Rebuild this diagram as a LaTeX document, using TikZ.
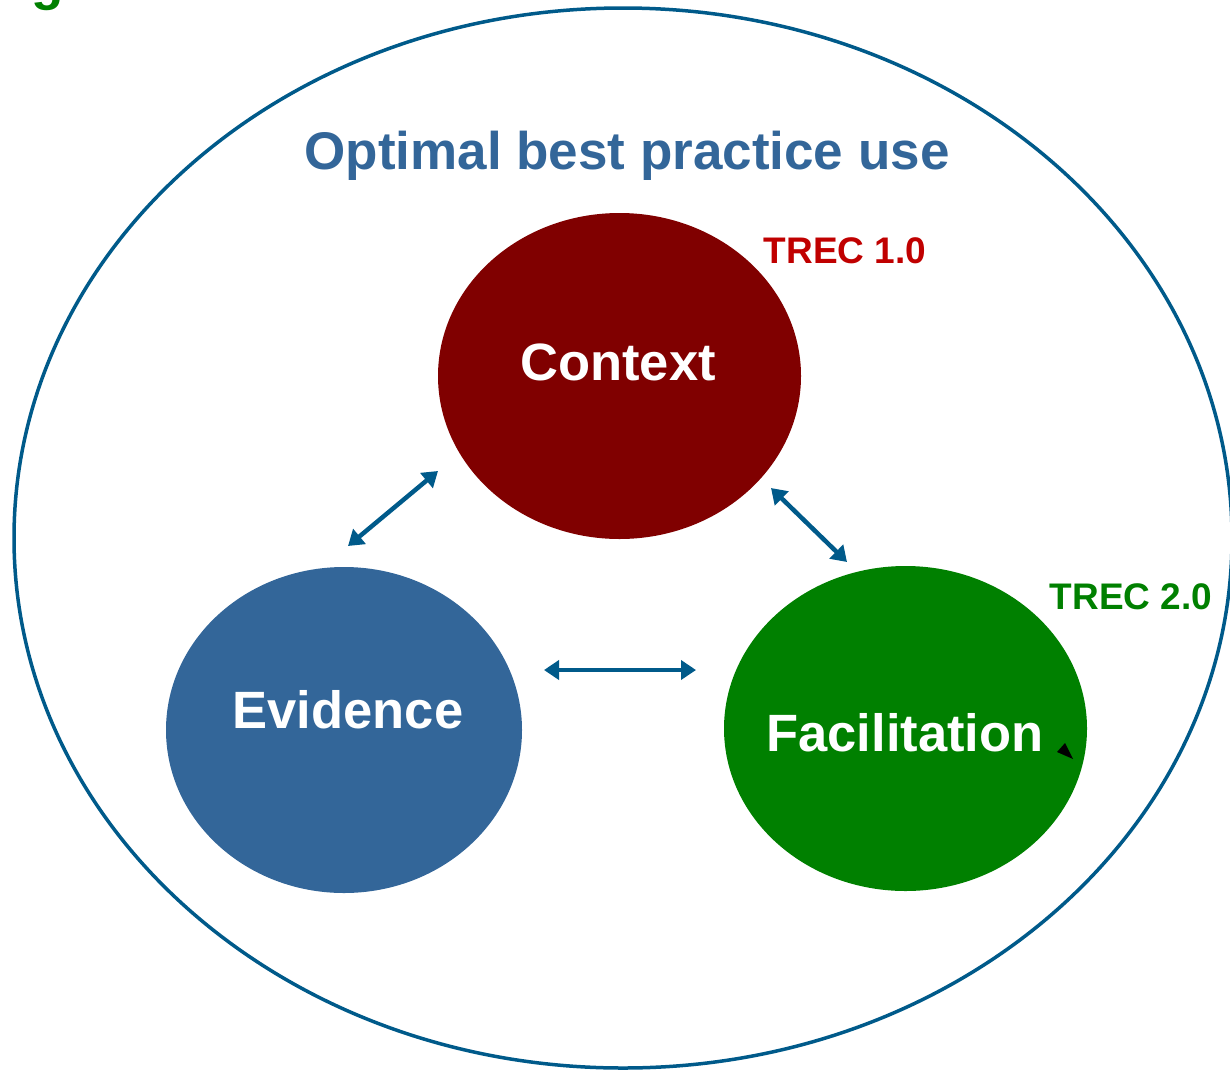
\documentclass[tikz,border=0pt]{standalone}
\usepackage{fontspec}
\setmainfont{Liberation Sans}
\usetikzlibrary{arrows.meta,shapes.geometric}
\definecolor{outl}{HTML}{005A8A}
\definecolor{ctx}{HTML}{800000}
\definecolor{evi}{HTML}{336699}
\definecolor{fac}{HTML}{008000}
\definecolor{trecred}{HTML}{C00000}
\tikzset{
  bubble/.style={ellipse, draw=none, inner sep=0pt},
  lbl/.style={text=white, font=\fontsize{52.5}{60}\selectfont\bfseries, inner sep=0pt},
  biarrow/.style={draw=outl, line width=4.5pt, {Triangle[width=19pt,length=15pt]}-{Triangle[width=19pt,length=15pt]}},
}
\begin{document}
\begin{tikzpicture}[x=1pt,y=-1pt]
\useasboundingbox (0,0) rectangle (1230,1071);
% outer ellipse
\draw[outl, line width=3.5pt] (623,538) ellipse [x radius=609, y radius=530];
% clipped heading fragment
\node[anchor=base, text=fac, font=\fontsize{53}{60}\selectfont\bfseries, inner sep=0pt] (frag) at (48,-1) {g};
% title
\node[text=evi, font=\fontsize{53}{60}\selectfont\bfseries, inner sep=0pt] (title) at (627,156) {Optimal best practice use};
% bubbles
\fill[ctx] (619.5,376) ellipse [x radius=181.5, y radius=163];
\fill[evi] (344,730) ellipse [x radius=178, y radius=163];
\fill[fac] (905.5,728.5) ellipse [x radius=181.5, y radius=162.5];
\node[lbl] (context) at (618,362) {Context};
\node[lbl] (evidence) at (348,710) {Evidence};
\node[lbl] (facil) at (905,733) {Facilitation};
% TREC labels
\node[text=trecred, font=\fontsize{37}{42}\selectfont\bfseries, inner sep=0pt] (trec1) at (845,251) {TREC 1.0};
\node[text=fac, font=\fontsize{37}{42}\selectfont\bfseries, inner sep=0pt] (trec2) at (1131,597) {TREC 2.0};
% arrow end points
\coordinate (ce1) at (348,546);
\coordinate (ce2) at (438,471);
\coordinate (cf1) at (771,488);
\coordinate (cf2) at (847,562);
\coordinate (ef1) at (544,670);
\coordinate (ef2) at (696,670);
\draw[biarrow] (ce1) -- (ce2);
\draw[biarrow] (cf1) -- (cf2);
\draw[biarrow] (ef1) -- (ef2);
% small black marker
\fill[black] (1057,752) -- (1065,743) -- (1073,759) -- cycle;
\end{tikzpicture}
\end{document}
